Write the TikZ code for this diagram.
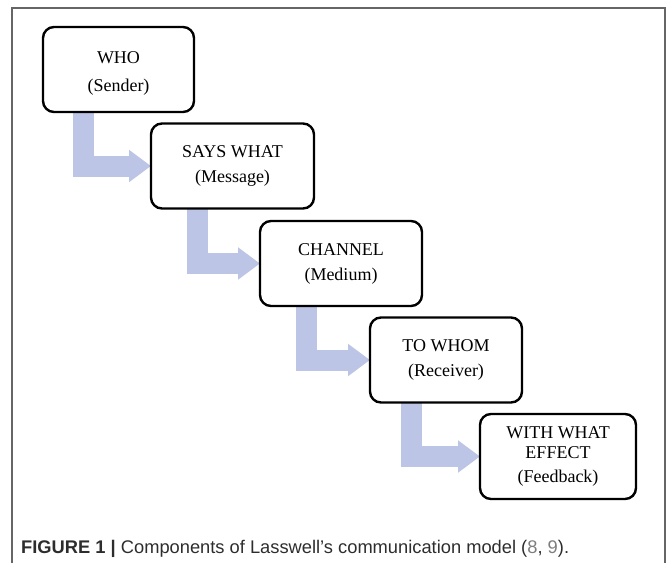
\documentclass[tikz,border=0pt]{standalone}
\usepackage{fontspec}
\setmainfont{Liberation Serif}
\setsansfont{Liberation Sans}
\usetikzlibrary{arrows.meta,backgrounds}
\definecolor{flowblue}{RGB}{188,197,230}
\definecolor{captext}{RGB}{45,45,45}
\definecolor{refgray}{RGB}{125,125,125}

\begin{document}
\begin{tikzpicture}[x=1pt,y=-1pt,
    stage/.style={draw, line width=2.4pt, rounded corners=11pt, fill=white, align=center,
        inner sep=0pt, outer sep=0pt, minimum height=85pt, font=\fontsize{18}{20}\selectfont},
    flow/.style={draw=flowblue, line width=21pt, line join=miter,
        -{Triangle[width=31pt,length=22pt]}}]
    \useasboundingbox (0,0) rectangle (667,563);
    \draw[line width=1.2pt, black!60] (12,563) -- (12,8) -- (665,8) -- (665,563);

    \node[stage, minimum width=151pt, text height=48pt] (who) at (118.5,69.5) {WHO\\[8pt](Sender)};
    \node[stage, minimum width=163pt] (says) at (232.5,166) {SAYS WHAT\\[5pt](Message)};
    \node[stage, minimum width=162pt] (channel) at (341,263.5) {CHANNEL\\[5pt](Medium)};
    \node[stage, minimum width=152pt] (whom) at (446,360) {TO WHOM\\[5pt](Receiver)};
    \node[stage, minimum width=156pt] (effect) at (558,456.5) {WITH WHAT\\EFFECT\\[4pt](Feedback)};

    \begin{pgfonlayer}{background}
        \draw[flow] ([xshift=-35pt]who.south) |- (says.west);
        \draw[flow] ([xshift=-35pt]says.south) |- (channel.west);
        \draw[flow] ([xshift=-35pt]channel.south) |- (whom.west);
        \draw[flow] ([xshift=-35pt]whom.south) |- (effect.west);
    \end{pgfonlayer}

    \node[anchor=base west, inner sep=0pt, text=captext, font=\sffamily\fontsize{18.3}{21}\selectfont]
        (caption) at (21,553) {\textbf{FIGURE 1 |} Components of Lasswell’s communication model ({\color{refgray}8}, {\color{refgray}9}).};
\end{tikzpicture}
\end{document}
